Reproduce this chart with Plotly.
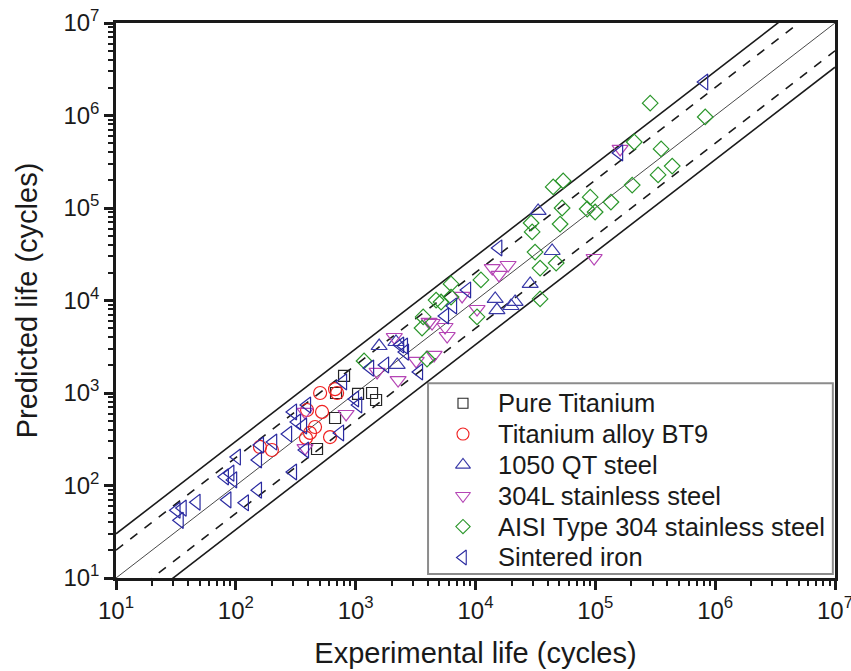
import plotly.graph_objects as go

# ---- data (experimental life, predicted life) ----
pure_ti_x = [800, 686, 1370, 1480, 673, 476, 1047]
pure_ti_y = [1530, 1000, 1000, 840, 537, 248, 977]

bt9_x = [159, 200, 393, 416, 385, 458, 505, 524, 611, 673, 700]
bt9_y = [261, 242, 655, 370, 327, 429, 1000, 624, 334, 1100, 1000]

qt1050_x = [1570, 2170, 2220, 14600, 15100, 19800, 21400, 28600, 33300, 43600]
qt1050_y = [3220, 3560, 2010, 10400, 7880, 8720, 9640, 15100, 92900, 34300]

ss304l_x = [832, 2100, 3200, 2260, 4510, 4100, 5570, 18700, 13800, 15700, 7730,
            10300, 5800, 4340, 97700, 161000, 1510, 378, 378]
ss304l_y = [593, 4030, 2220, 1380, 2580, 5860, 5170, 24200, 22400, 18900, 11200,
            8090, 4130, 5710, 28800, 435000, 1690, 624, 253]

aisi304_x = [1175, 3660, 3580, 3940, 4690, 5160, 6250, 6250, 11100, 10300, 29100,
             29700, 31400, 34600, 47100, 34600, 44500, 53900, 52800, 50800, 90600,
             85500, 99600, 135000, 203000, 211000, 287000, 354000, 334000, 438000, 826000]
aisi304_y = [2220, 6640, 5040, 2330, 10100, 9630, 15100, 10900, 16700, 6640, 68900,
             55100, 33400, 22400, 25400, 10400, 169000, 196000, 100000, 67100, 131000,
             97500, 90500, 116000, 177000, 517000, 1360000, 435000, 228000, 284000, 964000]

iron_x = [32, 34, 36, 47, 85, 119, 153, 300, 81, 90, 95, 102, 159, 153, 205, 273, 324,
          300, 393, 378, 785, 988, 1050, 1320, 1760, 2350, 2580, 3380, 15500, 8510, 6500,
          5570, 2530, 158000, 810000, 364, 741]
iron_y = [54, 42, 57, 66, 70, 65, 89, 140, 124, 136, 115, 203, 274, 189, 295, 360, 486,
          624, 742, 242, 1320, 861, 742, 1860, 2010, 3300, 2770, 1690, 37000, 13000, 8730,
          6800, 3220, 394000, 2300000, 440, 370]

series_names = ["Pure Titanium", "Titanium alloy BT9", "1050 QT steel",
                "304L stainless steel", "AISI Type 304 stainless steel", "Sintered iron"]

band_factors = [3, 2, 1, 0.5, 1 / 3]
band_ends = [10, 1e7]
tick_values = [10, 100, 1000, 10000, 100000, 1000000, 10000000]
tick_labels = ["10<sup>1</sup>", "10<sup>2</sup>", "10<sup>3</sup>", "10<sup>4</sup>",
               "10<sup>5</sup>", "10<sup>6</sup>", "10<sup>7</sup>"]

FONT = "Liberation Sans, Arial, sans-serif"
INK = "#1a1a1a"
fig = go.Figure()

# legend box (drawn under the traces, white)
LEG_X0, LEG_X1, LEG_Y0, LEG_Y1 = 0.434, 0.997, 0.007, 0.351
fig.add_shape(type="rect", xref="paper", yref="paper", x0=LEG_X0, x1=LEG_X1,
              y0=LEG_Y0, y1=LEG_Y1, fillcolor="white",
              line=dict(color="#8c8c8c", width=2), layer="below")

# scatter bands
for f in band_factors:
    dash = "dash" if f in (2, 0.5) else "solid"
    width = 0.8 if f == 1 else 1.6
    fig.add_trace(go.Scatter(x=band_ends, y=[v * f for v in band_ends], mode="lines",
                             line=dict(color=INK, width=width, dash=dash),
                             showlegend=False, hoverinfo="skip"))

styles = [
    ("square-open", "#262626", 11),
    ("circle-open", "#f02020", 13),
    ("triangle-up-open", "#3a3aa8", 14),
    ("triangle-down-open", "#b545b5", 14),
    ("diamond-open", "#2a962a", 12),
    ("triangle-left-open", "#2a2aa0", 14),
]
data_x = [pure_ti_x, bt9_x, qt1050_x, ss304l_x, aisi304_x, iron_x]
data_y = [pure_ti_y, bt9_y, qt1050_y, ss304l_y, aisi304_y, iron_y]

for name, xs, ys, (sym, col, sz) in zip(series_names, data_x, data_y, styles):
    fig.add_trace(go.Scatter(x=xs, y=ys, mode="markers", name=name, showlegend=False,
                             marker=dict(symbol=sym, size=sz, color=col,
                                         line=dict(color=col, width=1.2))))

# hand-built legend entries (symbol on overlay axes + text annotation)
row_top, row_step = 0.315, 0.0556
for i, (name, (sym, col, sz)) in enumerate(zip(series_names, styles)):
    ry = row_top - i * row_step
    fig.add_trace(go.Scatter(x=[0.4826], y=[ry], xaxis="x2", yaxis="y2", mode="markers",
                             showlegend=False, hoverinfo="skip",
                             marker=dict(symbol=sym, size=sz - 1, color=col,
                                         line=dict(color=col, width=1.1))))
    fig.add_annotation(x=0.529, y=ry, xref="paper", yref="paper", text=name,
                       showarrow=False, xanchor="left", yanchor="middle",
                       font=dict(family=FONT, size=25.5, color=INK))

axis_common = dict(
    type="log", range=[1, 7], tickmode="array", tickvals=tick_values, ticktext=tick_labels,
    ticks="outside", ticklen=9, tickwidth=2.5, tickcolor=INK,
    showline=True, linewidth=2.5, linecolor=INK, mirror=True,
    showgrid=False, zeroline=False, automargin=False, ticklabeloverflow="allow",
    tickfont=dict(family=FONT, size=24, color=INK),
    minor=dict(dtick="D1", ticks="outside", ticklen=5, tickwidth=2, tickcolor=INK,
               showgrid=False),
)

fig.update_layout(
    width=851, height=671,
    margin=dict(l=116, r=16, t=23, b=93),
    paper_bgcolor="white", plot_bgcolor="white",
    font=dict(family=FONT, color=INK),
    xaxis=dict(axis_common, title=dict(text="Experimental life (cycles)",
                                       font=dict(family=FONT, size=29), standoff=21)),
    yaxis=dict(axis_common, title=dict(text="Predicted life (cycles)",
                                       font=dict(family=FONT, size=29), standoff=18)),
    xaxis2=dict(overlaying="x", range=[0, 1], visible=False, fixedrange=True),
    yaxis2=dict(overlaying="y", range=[0, 1], visible=False, fixedrange=True),
    showlegend=False,
)

# remove the default page margin so the figure fills the window exactly
fig.write_html("out.html", config={"displayModeBar": False},
               post_script="document.body.style.margin='0px';")
